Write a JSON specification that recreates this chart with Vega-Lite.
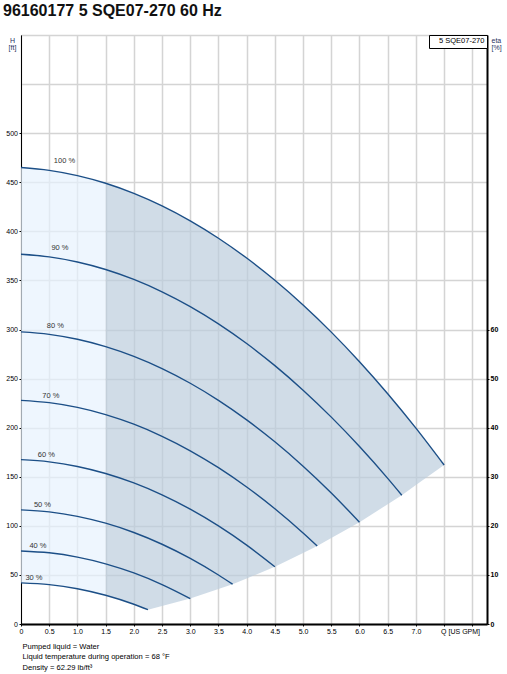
{
  "$schema": "https://vega.github.io/schema/vega-lite/v6.json",
  "width": 466,
  "height": 589,
  "autosize": {"type": "none"},
  "padding": {"left": 21, "top": 35, "right": 20, "bottom": 50},
  "background": "white",
  "config": {
    "font": "Liberation Sans",
    "view": {"stroke": "#000", "strokeWidth": 1},
    "axisX": {"labelOverlap": false}
  },
  "title": {
    "text": "96160177 5 SQE07-270 60 Hz",
    "anchor": "start",
    "frame": "group",
    "dx": -18,
    "offset": 0,
    "baseline": "alphabetic",
    "fontSize": 16,
    "fontWeight": "bold",
    "color": "#111"
  },
  "datasets": {
    "light": [
      {"Q": 0, "H": 465, "lo": 41.85},
      {"Q": 0.5, "H": 462.15, "lo": 40.13},
      {"Q": 1.0, "H": 456.81, "lo": 35.92},
      {"Q": 1.5, "H": 449.0, "lo": 29.25}
    ],
    "dark": [
      {"Q": 1.5, "H": 449.0, "lo": 29.25},
      {"Q": 1.75, "H": 444.17, "lo": 24.97},
      {"Q": 2.0, "H": 438.72, "lo": 20.09},
      {"Q": 2.25, "H": 432.64, "lo": 14.58},
      {"Q": 2.5, "H": 425.95, "lo": 18.36},
      {"Q": 3.0, "H": 410.71, "lo": 25.92},
      {"Q": 3.5, "H": 392.98, "lo": 35.64},
      {"Q": 3.75, "H": 383.2, "lo": 40.5},
      {"Q": 4.0, "H": 372.78, "lo": 46.44},
      {"Q": 4.5, "H": 350.11, "lo": 58.32},
      {"Q": 5.0, "H": 324.95, "lo": 72.36},
      {"Q": 5.25, "H": 311.44, "lo": 79.38},
      {"Q": 5.5, "H": 297.32, "lo": 87.48},
      {"Q": 6.0, "H": 267.2, "lo": 103.68},
      {"Q": 6.5, "H": 234.61, "lo": 122.04},
      {"Q": 6.75, "H": 217.39, "lo": 131.22},
      {"Q": 7.0, "H": 199.55, "lo": 141.48},
      {"Q": 7.5, "H": 162.0, "lo": 162.0}
    ],
    "curves": [
      {"curve": "100 %", "Q": 0, "H": 465},
      {"curve": "100 %", "Q": 0.5, "H": 462.15},
      {"curve": "100 %", "Q": 1.0, "H": 456.81},
      {"curve": "100 %", "Q": 1.5, "H": 449.0},
      {"curve": "100 %", "Q": 2.0, "H": 438.72},
      {"curve": "100 %", "Q": 2.5, "H": 425.95},
      {"curve": "100 %", "Q": 3.0, "H": 410.71},
      {"curve": "100 %", "Q": 3.5, "H": 392.98},
      {"curve": "100 %", "Q": 4.0, "H": 372.78},
      {"curve": "100 %", "Q": 4.5, "H": 350.11},
      {"curve": "100 %", "Q": 5.0, "H": 324.95},
      {"curve": "100 %", "Q": 5.5, "H": 297.32},
      {"curve": "100 %", "Q": 6.0, "H": 267.2},
      {"curve": "100 %", "Q": 6.5, "H": 234.61},
      {"curve": "100 %", "Q": 7.0, "H": 199.55},
      {"curve": "100 %", "Q": 7.5, "H": 162.0},
      {"curve": "90 %", "Q": 0, "H": 376.65},
      {"curve": "90 %", "Q": 0.5, "H": 373.96},
      {"curve": "90 %", "Q": 1.0, "H": 368.78},
      {"curve": "90 %", "Q": 1.5, "H": 361.14},
      {"curve": "90 %", "Q": 2.0, "H": 351.02},
      {"curve": "90 %", "Q": 2.5, "H": 338.4},
      {"curve": "90 %", "Q": 3.0, "H": 323.33},
      {"curve": "90 %", "Q": 3.5, "H": 305.77},
      {"curve": "90 %", "Q": 4.0, "H": 285.72},
      {"curve": "90 %", "Q": 4.5, "H": 263.21},
      {"curve": "90 %", "Q": 5.0, "H": 238.21},
      {"curve": "90 %", "Q": 5.5, "H": 210.74},
      {"curve": "90 %", "Q": 6.0, "H": 180.79},
      {"curve": "90 %", "Q": 6.5, "H": 148.36},
      {"curve": "90 %", "Q": 6.75, "H": 131.22},
      {"curve": "80 %", "Q": 0, "H": 297.6},
      {"curve": "80 %", "Q": 0.5, "H": 295.07},
      {"curve": "80 %", "Q": 1.0, "H": 290.06},
      {"curve": "80 %", "Q": 1.5, "H": 282.57},
      {"curve": "80 %", "Q": 2.0, "H": 272.61},
      {"curve": "80 %", "Q": 2.5, "H": 260.16},
      {"curve": "80 %", "Q": 3.0, "H": 245.25},
      {"curve": "80 %", "Q": 3.5, "H": 227.85},
      {"curve": "80 %", "Q": 4.0, "H": 207.96},
      {"curve": "80 %", "Q": 4.5, "H": 185.61},
      {"curve": "80 %", "Q": 5.0, "H": 160.78},
      {"curve": "80 %", "Q": 5.5, "H": 133.47},
      {"curve": "80 %", "Q": 6.0, "H": 103.68},
      {"curve": "70 %", "Q": 0, "H": 227.85},
      {"curve": "70 %", "Q": 0.5, "H": 225.48},
      {"curve": "70 %", "Q": 1.0, "H": 220.63},
      {"curve": "70 %", "Q": 1.5, "H": 213.31},
      {"curve": "70 %", "Q": 2.0, "H": 203.51},
      {"curve": "70 %", "Q": 2.5, "H": 191.22},
      {"curve": "70 %", "Q": 3.0, "H": 176.47},
      {"curve": "70 %", "Q": 3.5, "H": 159.23},
      {"curve": "70 %", "Q": 4.0, "H": 139.51},
      {"curve": "70 %", "Q": 4.5, "H": 117.32},
      {"curve": "70 %", "Q": 5.0, "H": 92.64},
      {"curve": "70 %", "Q": 5.25, "H": 79.38},
      {"curve": "60 %", "Q": 0, "H": 167.4},
      {"curve": "60 %", "Q": 0.5, "H": 165.19},
      {"curve": "60 %", "Q": 1.0, "H": 160.5},
      {"curve": "60 %", "Q": 1.5, "H": 153.34},
      {"curve": "60 %", "Q": 2.0, "H": 143.7},
      {"curve": "60 %", "Q": 2.5, "H": 131.57},
      {"curve": "60 %", "Q": 3.0, "H": 116.99},
      {"curve": "60 %", "Q": 3.5, "H": 99.91},
      {"curve": "60 %", "Q": 4.0, "H": 80.35},
      {"curve": "60 %", "Q": 4.5, "H": 58.32},
      {"curve": "50 %", "Q": 0, "H": 116.25},
      {"curve": "50 %", "Q": 0.5, "H": 114.2},
      {"curve": "50 %", "Q": 1.0, "H": 109.67},
      {"curve": "50 %", "Q": 1.5, "H": 102.68},
      {"curve": "50 %", "Q": 2.0, "H": 93.2},
      {"curve": "50 %", "Q": 2.5, "H": 81.23},
      {"curve": "50 %", "Q": 3.0, "H": 66.8},
      {"curve": "50 %", "Q": 3.5, "H": 49.89},
      {"curve": "50 %", "Q": 3.75, "H": 40.5},
      {"curve": "40 %", "Q": 0, "H": 74.4},
      {"curve": "40 %", "Q": 0.5, "H": 72.51},
      {"curve": "40 %", "Q": 1.0, "H": 68.15},
      {"curve": "40 %", "Q": 1.5, "H": 61.31},
      {"curve": "40 %", "Q": 2.0, "H": 52.0},
      {"curve": "40 %", "Q": 2.5, "H": 40.19},
      {"curve": "40 %", "Q": 3.0, "H": 25.92},
      {"curve": "30 %", "Q": 0, "H": 41.85},
      {"curve": "30 %", "Q": 0.5, "H": 40.13},
      {"curve": "30 %", "Q": 1.0, "H": 35.92},
      {"curve": "30 %", "Q": 1.5, "H": 29.25},
      {"curve": "30 %", "Q": 2.0, "H": 20.09},
      {"curve": "30 %", "Q": 2.25, "H": 14.58}
    ],
    "labels": [
      {"label": "100 %", "Q": 0.77, "H": 471.2},
      {"label": "90 %", "Q": 0.69, "H": 382.6},
      {"label": "80 %", "Q": 0.61, "H": 303.5},
      {"label": "70 %", "Q": 0.53, "H": 232.2},
      {"label": "60 %", "Q": 0.45, "H": 172.1},
      {"label": "50 %", "Q": 0.38, "H": 121.4},
      {"label": "40 %", "Q": 0.30, "H": 79.7},
      {"label": "30 %", "Q": 0.23, "H": 46.5}
    ]
  },
  "layer": [
    {
      "encoding": {
        "x": {
          "field": "Q", "type": "quantitative",
          "scale": {"domain": [0, 8.26], "nice": false, "zero": false},
          "axis": {
            "values": [0, 0.5, 1, 1.5, 2, 2.5, 3, 3.5, 4, 4.5, 5, 5.5, 6, 6.5, 7, 7.5, 8],
            "format": ".1f",
            "labelExpr": "datum.value == 0 ? '0' : (datum.value > 7.4 && datum.value < 7.6) ? 'Q [US GPM]' : datum.value > 7.6 ? '' : datum.label",
            "grid": true, "gridColor": "#d4d4d4", "gridWidth": 1.5,
            "domainColor": "#000", "domainWidth": 2,
            "tickColor": "#000", "tickSize": 2,
            "labelFontSize": 7, "labelColor": "#000", "labelPadding": 1,
            "labelFlush": false, "labelOverlap": false, "labelBound": false,
            "labelAlign": {"condition": {"test": "datum.value > 7.4 && datum.value < 7.6", "value": "left"}, "value": "center"},
            "labelOffset": {"condition": {"test": "datum.value > 7.4 && datum.value < 7.6", "value": -3.5}, "value": 0},
            "title": ["Pumped liquid = Water", "Liquid temperature during operation = 68 °F", "Density = 62.29 lb/ft³"],
            "titleX": 1, "titleY": 24.7, "titleAlign": "left", "titleAnchor": "start",
            "titleBaseline": "alphabetic", "titleFontSize": 7.6, "titleFontWeight": "normal",
            "titleLineHeight": 10.2, "titleColor": "#000"
          }
        },
        "y": {
          "field": "H", "type": "quantitative",
          "scale": {"domain": [0, 600], "nice": false},
          "axis": {
            "values": [0, 50, 100, 150, 200, 250, 300, 350, 400, 450, 500, 550, 600],
            "labelExpr": "datum.value > 500 ? '' : datum.label",
            "grid": true, "gridColor": "#d4d4d4", "gridWidth": 1.5,
            "domainColor": "#000", "domainWidth": 1,
            "tickColor": "#000", "tickSize": 2,
            "tickOpacity": {"condition": {"test": "datum.value > 500", "value": 0}, "value": 1},
            "labelFontSize": 7, "labelColor": "#000", "labelPadding": 1.5,
            "title": ["H", "[ft]"], "titleAngle": 0, "titleX": -9, "titleY": 1,
            "titleAlign": "center", "titleBaseline": "top", "titleFontSize": 7,
            "titleFontWeight": "normal", "titleLineHeight": 7, "titleColor": "#1f3060"
          }
        }
      },
      "layer": [
        {
          "data": {"name": "light"},
          "mark": {"type": "area", "color": "#e7f2fe", "opacity": 0.7},
          "encoding": {"y2": {"field": "lo"}}
        },
        {
          "data": {"name": "dark"},
          "mark": {"type": "area", "color": "#bccddd", "opacity": 0.7},
          "encoding": {"y2": {"field": "lo"}}
        },
        {
          "data": {"name": "curves"},
          "mark": {"type": "line", "interpolate": "monotone", "strokeWidth": 1.4},
          "encoding": {
            "detail": {"field": "curve"},
            "color": {
              "datum": "5 SQE07-270",
              "scale": {"range": ["#1c4f87"]},
              "legend": {
                "orient": "top-right", "offset": 0, "title": null, "padding": 2.5,
                "strokeColor": "#000", "fillColor": "white",
                "symbolSize": 0, "symbolOpacity": 0, "symbolStrokeWidth": 0,
                "labelOffset": 0, "labelFontSize": 7.5, "labelColor": "#000"
              }
            }
          }
        },
        {
          "data": {"name": "labels"},
          "mark": {"type": "text", "fontSize": 7.5, "color": "#333", "align": "center", "baseline": "middle"},
          "encoding": {"text": {"field": "label"}}
        }
      ]
    },
    {
      "data": {"values": [{"eta": 0}, {"eta": 120}]},
      "mark": {"type": "point", "opacity": 0},
      "encoding": {
        "y": {
          "field": "eta", "type": "quantitative",
          "scale": {"domain": [0, 120], "nice": false},
          "axis": {
            "orient": "right",
            "values": [0, 10, 20, 30, 40, 50, 60],
            "grid": false,
            "domainColor": "#000", "domainWidth": 2,
            "tickColor": "#000", "tickSize": 2,
            "labelFontSize": 7, "labelFontWeight": "bold", "labelColor": "#000", "labelPadding": 1,
            "title": ["eta", "[%]"], "titleAngle": 0, "titleX": 4, "titleY": 1,
            "titleAlign": "left", "titleBaseline": "top", "titleFontSize": 7,
            "titleFontWeight": "normal", "titleLineHeight": 7, "titleColor": "#1f3060"
          }
        }
      }
    }
  ],
  "resolve": {"scale": {"y": "independent"}}
}
